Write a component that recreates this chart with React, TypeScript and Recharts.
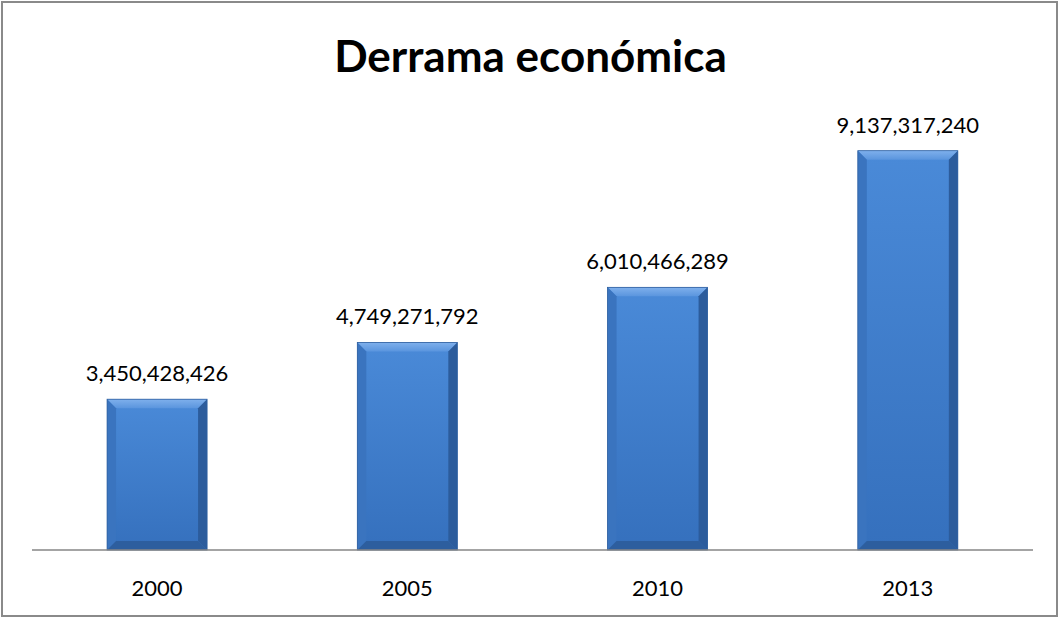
import { BarChart, Bar, XAxis, YAxis, LabelList } from 'recharts'

const years = ['2000', '2005', '2010', '2013']
const derrama = [3450428426, 4749271792, 6010466289, 9137317240]

const data = years.map((year, i) => ({ year, value: derrama[i] }))

const font = 'Lato, "Open Sans", sans-serif'

function BevelBar(props: any) {
  const { x, y, width, height } = props
  if (!height || height <= 0) return null
  const b = Math.min(9, width / 4, height / 4)
  return (
    <g>
      <rect x={x} y={y} width={width} height={height} fill="url(#barFill)" />
      {/* top bevel */}
      <polygon
        points={`${x},${y} ${x + width},${y} ${x + width - b},${y + b} ${x + b},${y + b}`}
        fill="url(#bevelTop)"
      />
      {/* left bevel */}
      <polygon
        points={`${x},${y} ${x + b},${y + b} ${x + b},${y + height - b} ${x},${y + height}`}
        fill="#3a74bf"
      />
      {/* right bevel */}
      <polygon
        points={`${x + width},${y} ${x + width},${y + height} ${x + width - b},${y + height - b} ${x + width - b},${y + b}`}
        fill="#2c5c9c"
      />
      {/* bottom bevel */}
      <polygon
        points={`${x},${y + height} ${x + b},${y + height - b} ${x + width - b},${y + height - b} ${x + width},${y + height}`}
        fill="#2d5e9e"
      />
      <rect x={x} y={y} width={width} height={height} fill="none" stroke="#2f5f9f" strokeWidth={0.8} />
    </g>
  )
}

export default function App() {
  return (
    <div style={{ position: 'absolute', left: 0, top: 0, width: 1061, height: 620, background: '#fff' }}>
      <div
        style={{
          position: 'absolute',
          left: 1,
          top: 1,
          width: 1053,
          height: 612,
          border: '2px solid #8a8a8a',
        }}
      />
      <div
        style={{
          position: 'absolute',
          left: 0,
          top: 28,
          width: 1061,
          textAlign: 'center',
          fontFamily: font,
          fontWeight: 700,
          fontSize: 44,
          lineHeight: '54px',
          color: '#000',
        }}
      >
        Derrama económica
      </div>
      <BarChart
        width={1061}
        height={620}
        data={data}
        margin={{ top: 113, right: 28, left: 32, bottom: 40 }}
        barCategoryGap="30%"
        style={{ position: 'absolute', left: 0, top: 0 }}
      >
        <defs>
          <linearGradient id="barFill" x1="0" y1="0" x2="0" y2="1">
            <stop offset="0%" stopColor="#4a8ad8" />
            <stop offset="100%" stopColor="#3570bd" />
          </linearGradient>
          <linearGradient id="bevelTop" x1="0" y1="0" x2="0" y2="1">
            <stop offset="0%" stopColor="#7fb0ec" />
            <stop offset="100%" stopColor="#5a95de" />
          </linearGradient>
        </defs>
        <XAxis
          dataKey="year"
          height={30}
          axisLine={{ stroke: '#868686', strokeWidth: 1.5 }}
          tickLine={false}
          tick={{ fill: '#000', fontSize: 22, fontFamily: font }}
          tickMargin={24}
        />
        <YAxis hide domain={[0, 10000000000]} />
        <Bar dataKey="value" shape={<BevelBar />} isAnimationActive={false}>
          <LabelList
            dataKey="value"
            position="top"
            offset={18}
            formatter={(v: any) => Number(v).toLocaleString('en-US')}
            style={{ fill: '#000', fontSize: 22, fontFamily: font }}
          />
        </Bar>
      </BarChart>
    </div>
  )
}
